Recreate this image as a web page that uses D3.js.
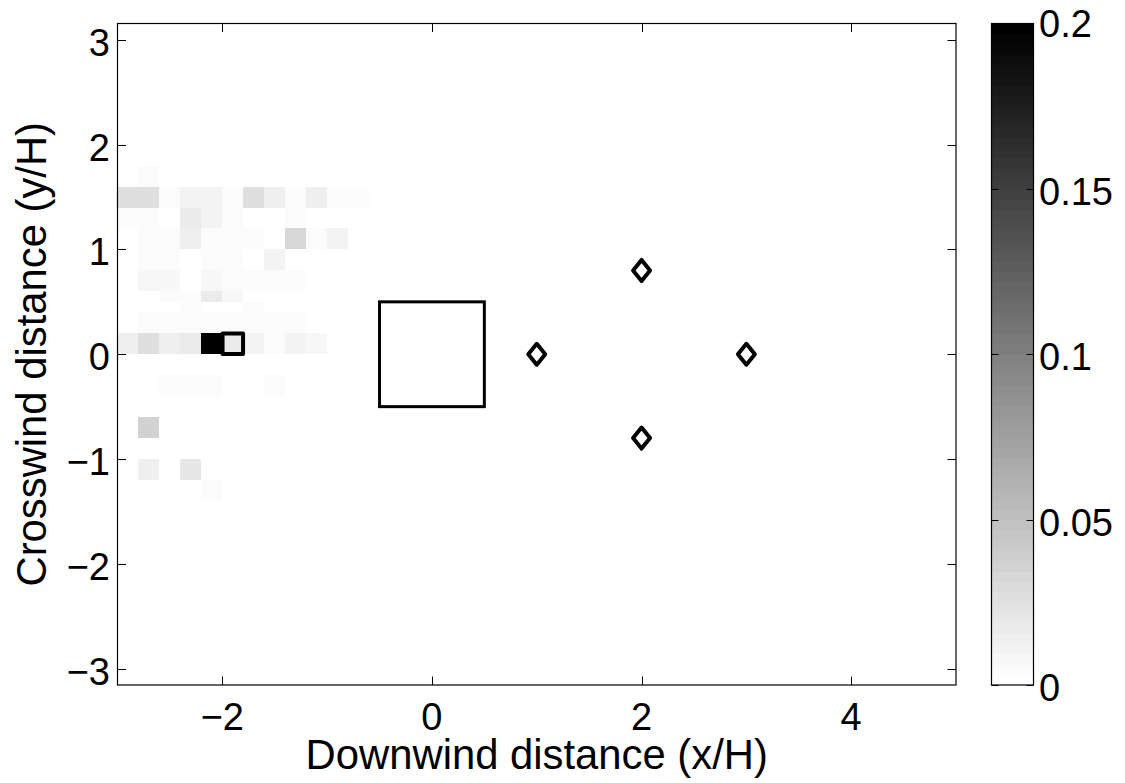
<!DOCTYPE html>
<html>
<head>
<meta charset="utf-8">
<script src="https://cdn.jsdelivr.net/npm/d3@7"></script>
<style>
  html, body { margin: 0; padding: 0; background: #fff; }
  svg { display: block; }
  text { font-family: "Liberation Sans", Arial, Helvetica, sans-serif; fill: #000; }
</style>
</head>
<body>
<svg id="chart" width="1125" height="783"></svg>
<script>
// ---------------- data ----------------
const xTicks = [-2, 0, 2, 4];
const yTicks = [-3, -2, -1, 0, 1, 2, 3];
const cbTicks = [0, 0.05, 0.1, 0.15, 0.2];
const cbTickLabels = ["0", "0.05", "0.1", "0.15", "0.2"];

// left edges of the heat-map columns (x/H), each 0.2 wide
const cellColumns = [-3.0, -2.8, -2.6, -2.4, -2.2, -2.0, -1.8, -1.6, -1.4, -1.2, -1.0, -0.8];
const cellWidth = 0.2;
// bottom edges and heights of the heat-map rows (y/H)
const rowBottoms = [1.6, 1.4, 1.2, 1.0, 0.8, 0.6, 0.5, 0.4, 0.2, 0.0, -0.2, -0.4, -0.6, -0.8, -1.0, -1.2, -1.4];
const rowHeights = [0.2, 0.2, 0.2, 0.2, 0.2, 0.2, 0.1, 0.1, 0.2, 0.2, 0.2, 0.2, 0.2, 0.2, 0.2, 0.2, 0.2];
// values per row (one per column)
const cellValues = [
  [0, 0.004, 0, 0, 0, 0, 0, 0, 0, 0, 0, 0],
  [0.028, 0.028, 0.004, 0.010, 0.012, 0.004, 0.028, 0.015, 0.004, 0.015, 0.004, 0.004],
  [0.004, 0.004, 0, 0.018, 0.010, 0.004, 0, 0, 0.004, 0, 0, 0],
  [0, 0.004, 0.004, 0.015, 0.004, 0.004, 0.004, 0, 0.034, 0.004, 0.010, 0],
  [0, 0.004, 0.004, 0, 0.004, 0.004, 0, 0.010, 0, 0, 0, 0],
  [0, 0.008, 0.008, 0, 0.008, 0.004, 0.004, 0.004, 0.004, 0, 0, 0],
  [0, 0, 0.004, 0.004, 0.018, 0.008, 0, 0, 0, 0, 0, 0],
  [0, 0, 0, 0.004, 0, 0, 0.004, 0, 0, 0, 0, 0],
  [0, 0.004, 0.004, 0.006, 0.004, 0.004, 0.004, 0.004, 0.004, 0, 0, 0],
  [0.015, 0.025, 0.015, 0.018, 0.2, 0.016, 0.012, 0.004, 0.010, 0.007, 0, 0],
  [0, 0, 0, 0, 0, 0, 0, 0, 0, 0, 0, 0],
  [0, 0, 0.004, 0.004, 0.004, 0, 0, 0.004, 0, 0, 0, 0],
  [0, 0, 0, 0, 0, 0, 0, 0, 0, 0, 0, 0],
  [0, 0.036, 0, 0, 0, 0, 0, 0, 0, 0, 0, 0],
  [0, 0, 0, 0, 0, 0, 0, 0, 0, 0, 0, 0],
  [0, 0.015, 0, 0.019, 0, 0, 0, 0, 0, 0, 0, 0],
  [0, 0, 0, 0, 0.004, 0, 0, 0, 0, 0, 0, 0]
];

// building (square) extent
const buildingX = [-0.5, 0.5];
const buildingY = [-0.5, 0.5];
// source marker (square)
const sourceX = [-1.9];
const sourceY = [0.1];
// sensor markers (diamonds)
const sensorX = [1, 2, 2, 3];
const sensorY = [0, 0.8, -0.8, 0];

// ---------------- layout ----------------
const svg = d3.select("#chart");
const plot = { left: 117.5, right: 956, top: 23.5, bottom: 685 };
const cb = { left: 991.5, right: 1033.5, top: 23.5, bottom: 685 };

const x = d3.scaleLinear().domain([-3, 5]).range([plot.left, plot.right]);
const y = d3.scaleLinear().domain([-3.156, 3.156]).range([plot.bottom, plot.top]);

const nLevels = 64;
const grayLevels = d3.range(nLevels).map(i => {
  const g = Math.round((nLevels - 1 - i) / (nLevels - 1) * 255);
  return d3.rgb(g, g, g).toString();
});
const color = d3.scaleQuantize().domain([0, 0.2]).range(grayLevels);

// ---------------- heat map ----------------
const cells = [];
rowBottoms.forEach((yb, r) => {
  cellColumns.forEach((xl, c) => {
    const v = cellValues[r][c];
    if (v > 0) cells.push({ x0: xl, y0: yb, h: rowHeights[r], v });
  });
});
svg.append("g").selectAll("rect").data(cells).join("rect")
  .attr("x", d => x(d.x0))
  .attr("y", d => y(d.y0 + d.h))
  .attr("width", d => x(d.x0 + cellWidth) - x(d.x0))
  .attr("height", d => y(d.y0) - y(d.y0 + d.h))
  .attr("fill", d => color(d.v))
  .attr("shape-rendering", "crispEdges");

// ---------------- markers ----------------
svg.append("rect")
  .attr("x", x(buildingX[0])).attr("y", y(buildingY[1]))
  .attr("width", x(buildingX[1]) - x(buildingX[0]))
  .attr("height", y(buildingY[0]) - y(buildingY[1]))
  .attr("fill", "none").attr("stroke", "#000").attr("stroke-width", 3);

const sq = 20.5;
svg.append("g").selectAll("rect").data(sourceX.map((d, i) => [d, sourceY[i]])).join("rect")
  .attr("x", d => x(d[0]) - sq / 2).attr("y", d => y(d[1]) - sq / 2)
  .attr("width", sq).attr("height", sq)
  .attr("fill", "none").attr("stroke", "#000").attr("stroke-width", 4)
  .attr("stroke-linejoin", "round");

const dw = 8.5, dh = 10.5;
svg.append("g").selectAll("path").data(sensorX.map((d, i) => [d, sensorY[i]])).join("path")
  .attr("d", d => {
    const cx = x(d[0]), cy = y(d[1]);
    return `M${cx},${cy - dh}L${cx + dw},${cy}L${cx},${cy + dh}L${cx - dw},${cy}Z`;
  })
  .attr("fill", "none").attr("stroke", "#000").attr("stroke-width", 4)
  .attr("stroke-linejoin", "round");

// ---------------- axes ----------------
const tickLen = 8.5;
const axes = svg.append("g");
axes.append("rect")
  .attr("x", plot.left).attr("y", plot.top)
  .attr("width", plot.right - plot.left).attr("height", plot.bottom - plot.top)
  .attr("fill", "none").attr("stroke", "#000").attr("stroke-width", 1.2);

xTicks.forEach(t => {
  const px = Math.round(x(t)) + 0.5;
  axes.append("line").attr("x1", px).attr("x2", px).attr("y1", plot.bottom).attr("y2", plot.bottom - tickLen)
    .attr("stroke", "#000").attr("stroke-width", 1);
  axes.append("line").attr("x1", px).attr("x2", px).attr("y1", plot.top).attr("y2", plot.top + tickLen)
    .attr("stroke", "#000").attr("stroke-width", 1);
  axes.append("text").attr("x", x(t)).attr("y", 730)
    .attr("text-anchor", "middle").attr("font-size", 38)
    .text(t < 0 ? "\u2212" + Math.abs(t) : String(t));
});
yTicks.forEach(t => {
  const py = Math.round(y(t)) + 0.5;
  axes.append("line").attr("x1", plot.left).attr("x2", plot.left + tickLen).attr("y1", py).attr("y2", py)
    .attr("stroke", "#000").attr("stroke-width", 1);
  axes.append("line").attr("x1", plot.right).attr("x2", plot.right - tickLen).attr("y1", py).attr("y2", py)
    .attr("stroke", "#000").attr("stroke-width", 1);
  axes.append("text").attr("x", 110).attr("y", y(t) + 16)
    .attr("text-anchor", "end").attr("font-size", 38)
    .text(t < 0 ? "\u2212" + Math.abs(t) : String(t));
});

svg.append("text").attr("x", (plot.left + plot.right) / 2).attr("y", 769)
  .attr("text-anchor", "middle").attr("font-size", 41.8)
  .text("Downwind distance (x/H)");
svg.append("text")
  .attr("transform", `translate(46,${(plot.top + plot.bottom) / 2}) rotate(-90)`)
  .attr("text-anchor", "middle").attr("font-size", 41.8)
  .text("Crosswind distance (y/H)");

// ---------------- colorbar ----------------
const cy = d3.scaleLinear().domain([0, 0.2]).range([cb.bottom, cb.top]);
const bandVals = d3.range(nLevels);
svg.append("g").selectAll("rect").data(bandVals).join("rect")
  .attr("x", cb.left).attr("width", cb.right - cb.left)
  .attr("y", i => cy((i + 1) * 0.2 / nLevels))
  .attr("height", i => cy(i * 0.2 / nLevels) - cy((i + 1) * 0.2 / nLevels) + 0.5)
  .attr("fill", i => grayLevels[i])
  .attr("shape-rendering", "crispEdges");
svg.append("rect")
  .attr("x", cb.left).attr("y", cb.top)
  .attr("width", cb.right - cb.left).attr("height", cb.bottom - cb.top)
  .attr("fill", "none").attr("stroke", "#000").attr("stroke-width", 1.2);
cbTicks.forEach((t, i) => {
  const py = Math.round(cy(t)) + 0.5;
  svg.append("line").attr("x1", cb.right).attr("x2", cb.right - 7).attr("y1", py).attr("y2", py)
    .attr("stroke", "#000").attr("stroke-width", 1);
  svg.append("line").attr("x1", cb.left).attr("x2", cb.left + 7).attr("y1", py).attr("y2", py)
    .attr("stroke", "#000").attr("stroke-width", 1);
  svg.append("text").attr("x", 1039).attr("y", cy(t) + (i === cbTicks.length - 1 ? 13 : 16))
    .attr("text-anchor", "start").attr("font-size", 38)
    .text(cbTickLabels[i]);
});
</script>
</body>
</html>
